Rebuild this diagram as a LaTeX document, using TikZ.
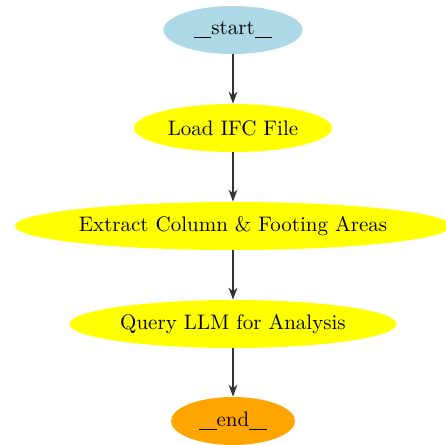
\documentclass[tikz,border=0pt]{standalone}
\usepackage{xcolor}
\usepackage{tikz}
\usetikzlibrary{arrows.meta,shapes.geometric}
\definecolor{startblue}{RGB}{173,216,230}
\definecolor{stepyellow}{RGB}{255,255,0}
\definecolor{endorange}{RGB}{255,165,0}
\newcommand{\usbar}{\rule[-1.6pt]{4.3pt}{0.45pt}}
\tikzset{
  >={Stealth[length=6pt,width=4.4pt]},
  stage/.style={ellipse, draw=none, inner sep=0pt, minimum height=24pt, font=\fontsize{10.5}{12}\selectfont},
  flow/.style={->, line width=0.6pt, draw=black!80},
}
\begin{document}
\begin{tikzpicture}[x=0.5pt, y=-0.5pt]
  \useasboundingbox (0,0) rectangle (446,445);
  \foreach \y/\n/\c/\w/\l in {30/start/startblue/69.5/\usbar\usbar start\usbar\usbar, 128/load/stepyellow/99/Load IFC File, 226/extract/stepyellow/217/Extract Column \& Footing Areas, 324/query/stepyellow/163.5/Query LLM for Analysis, 421/end/endorange/62/\usbar\usbar end\usbar\usbar} {
    \node[stage, fill=\c, minimum width=\w pt] (\n) at (233,\y) {\l};
  }
  \foreach \a/\b in {start/load, load/extract, extract/query, query/end}
    \draw[flow] (\a) -- (\b);
\end{tikzpicture}
\end{document}
